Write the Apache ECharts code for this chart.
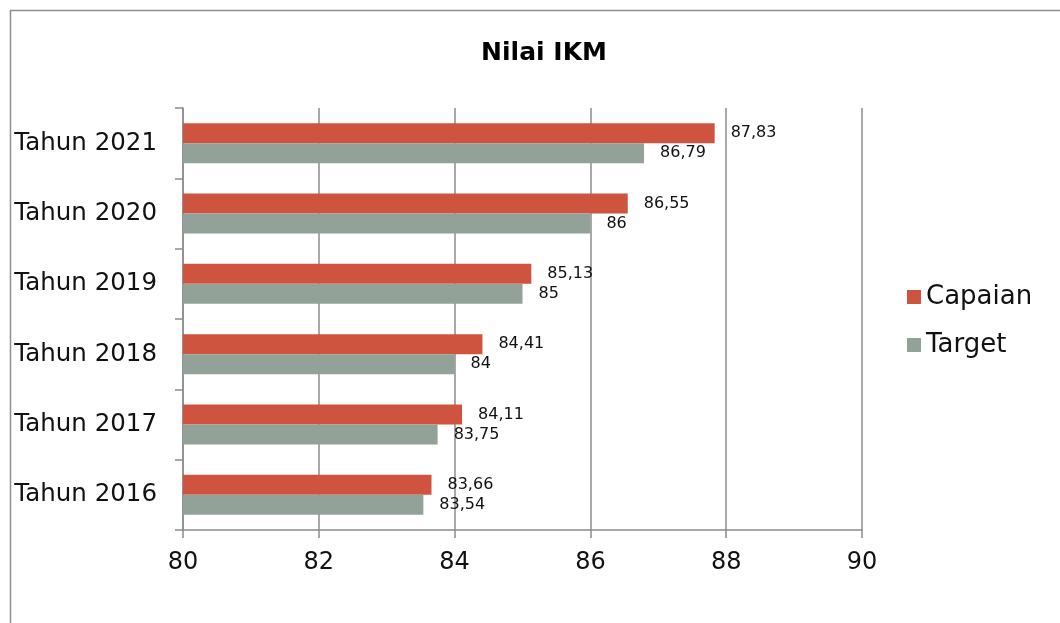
<!DOCTYPE html>
<html lang="id">
<head>
    <meta charset="utf-8">
    <title>Nilai IKM</title>
    <script type="text/javascript" src="https://cdn.jsdelivr.net/npm/echarts@6/dist/echarts.min.js"></script>
    <style>
        html, body { margin: 0; padding: 0; background: #fff; }
        #main { width: 1060px; height: 623px; }
    </style>
</head>

<body>
    <div id="main"></div>

    <script type="text/javascript">
    // data
    var tahun = ['Tahun 2016', 'Tahun 2017', 'Tahun 2018', 'Tahun 2019', 'Tahun 2020', 'Tahun 2021'];
    var capaian = [83.66, 84.11, 84.41, 85.13, 86.55, 87.83];
    var target = [83.54, 83.75, 84, 85, 86, 86.79];

    var font = 'DejaVu Sans';
    var axisGrey = '#8c8c8c';

    function koma(p) {
        return String(p.value).replace('.', ',');
    }

    var myChart = echarts.init(document.getElementById('main'));

    myChart.setOption({
        animation: false,
        textStyle: { fontFamily: font, color: '#000' },
        title: {
            text: 'Nilai IKM',
            left: 539,
            textAlign: 'center',
            top: 36,
            textStyle: { fontSize: 25, fontWeight: 'bold', fontFamily: font, color: '#000' }
        },
        graphic: [{
            type: 'rect',
            shape: { x: 10.5, y: 10.5, width: 1200, height: 800 },
            style: { fill: 'none', stroke: '#8e8e8e', lineWidth: 1.5 },
            silent: true
        }],
        legend: {
            data: ['Capaian', 'Target'],
            orient: 'vertical',
            left: 902,
            top: 276,
            itemWidth: 14,
            itemHeight: 14,
            itemGap: 16,
            icon: 'rect',
            textStyle: { fontSize: 26, fontFamily: font, color: '#111', lineHeight: 32 }
        },
        grid: {
            left: 183,
            right: 198,
            top: 108,
            bottom: 93,
            containLabel: false
        },
        xAxis: {
            type: 'value',
            min: 80,
            max: 90,
            interval: 2,
            axisLine: { show: true, lineStyle: { color: axisGrey, width: 1.5 } },
            axisTick: { show: true, length: 8, lineStyle: { color: axisGrey, width: 1.5 } },
            axisLabel: { fontSize: 24, margin: 21, color: '#111', fontFamily: font },
            splitLine: { show: true, lineStyle: { color: axisGrey, width: 1.5 } }
        },
        yAxis: {
            type: 'category',
            data: tahun,
            axisLine: { show: true, lineStyle: { color: axisGrey, width: 1.5 } },
            axisTick: { show: true, length: 8, lineStyle: { color: axisGrey, width: 1.5 } },
            axisLabel: { fontSize: 24.5, margin: 26, color: '#111', fontFamily: font }
        },
        series: [{
            name: 'Capaian',
            type: 'bar',
            data: capaian,
            barWidth: 20,
            barGap: '0%',
            itemStyle: { color: '#cf543f' },
            label: {
                show: true,
                position: 'right',
                distance: 16,
                formatter: koma,
                fontSize: 16,
                color: '#111',
                fontFamily: font
            }
        }, {
            name: 'Target',
            type: 'bar',
            data: target,
            barWidth: 20,
            barGap: '0%',
            itemStyle: { color: '#93a299' },
            label: {
                show: true,
                position: 'right',
                distance: 16,
                formatter: koma,
                fontSize: 16,
                color: '#111',
                fontFamily: font
            }
        }]
    });
    </script>
</body>
</html>
